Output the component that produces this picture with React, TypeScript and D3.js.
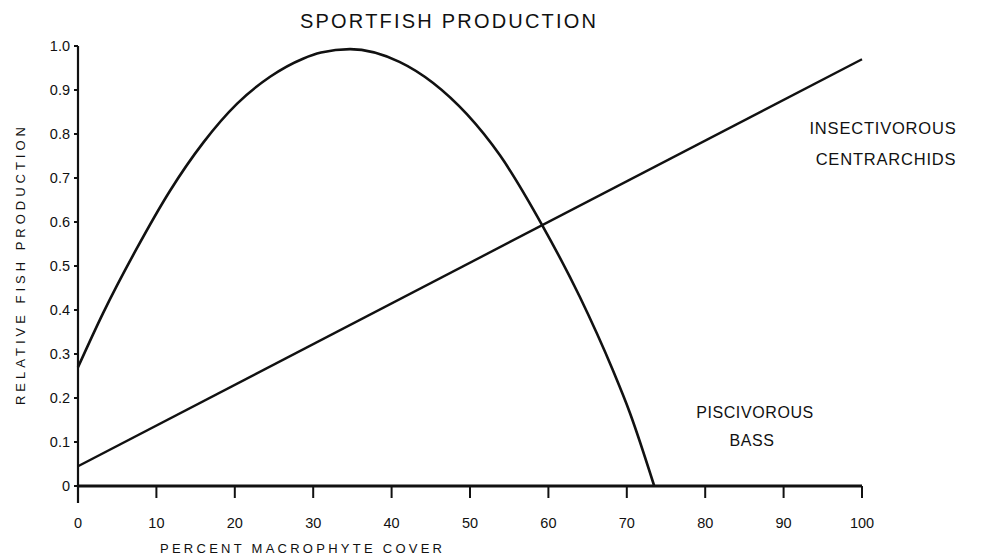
import React from "react";
import * as d3 from "d3";

const xTicks = [0, 10, 20, 30, 40, 50, 60, 70, 80, 90, 100];
const yTicks = [0, 0.1, 0.2, 0.3, 0.4, 0.5, 0.6, 0.7, 0.8, 0.9, 1.0];
const yTickLabels = ["0", "0.1", "0.2", "0.3", "0.4", "0.5", "0.6", "0.7", "0.8", "0.9", "1.0"];

const bassX = [0, 3.2, 7.5, 11.7, 16, 20.3, 24.5, 28.7, 31, 34.7, 41, 45.3, 49.6, 53.8, 59.2, 64, 68.2, 70.4, 73.5];
const bassY = [0.27, 0.393, 0.54, 0.67, 0.781, 0.869, 0.93, 0.971, 0.985, 0.993, 0.964, 0.916, 0.845, 0.752, 0.593, 0.43, 0.264, 0.166, 0];

const insectX = [0, 100];
const insectY = [0.045, 0.97];

const W = 987;
const H = 559;

export default function App() {
  const x = d3.scaleLinear().domain([0, 100]).range([78, 862]);
  const y = d3.scaleLinear().domain([0, 1]).range([486, 46]);

  const bass = bassX.map((v, i) => [v, bassY[i]] as [number, number]);
  const insect = insectX.map((v, i) => [v, insectY[i]] as [number, number]);

  const line = d3
    .line<[number, number]>()
    .x((d) => x(d[0]))
    .y((d) => y(d[1]))
    .curve(d3.curveMonotoneX);

  const font = "'Liberation Sans', Arial, Helvetica, sans-serif";

  return (
    <svg
      width={W}
      height={H}
      style={{ position: "absolute", left: 0, top: 0, background: "#fff" }}
      fontFamily={font}
    >
      <rect x={0} y={0} width={W} height={H} fill="#fff" />
      {/* title */}
      <text x={300} y={28} fontSize={20} textLength={296} lengthAdjust="spacing" fill="#111">
        SPORTFISH PRODUCTION
      </text>

      {/* y axis */}
      <line x1={x(0)} x2={x(0)} y1={y(1)} y2={503} stroke="#111" strokeWidth={2.2} />
      {yTicks.map((t, i) => (
        <g key={"yt" + i}>
          <line x1={x(0) - 4} x2={x(0)} y1={y(t)} y2={y(t)} stroke="#111" strokeWidth={2} />
          <text x={x(0) - 8} y={y(t) + 5} fontSize={14.5} textAnchor="end" fill="#111">
            {yTickLabels[i]}
          </text>
        </g>
      ))}

      {/* x axis */}
      <line x1={x(0)} x2={x(100)} y1={y(0)} y2={y(0)} stroke="#111" strokeWidth={3} />
      {xTicks.map((t, i) => (
        <g key={"xt" + i}>
          <line x1={x(t)} x2={x(t)} y1={y(0)} y2={y(0) + (t === 0 ? 17 : 12)} stroke="#111" strokeWidth={2} />
          <text x={x(t)} y={y(0) + 42} fontSize={14.5} textAnchor="middle" fill="#111">
            {t}
          </text>
        </g>
      ))}

      {/* axis titles */}
      <text x={160} y={553} fontSize={13} textLength={282} lengthAdjust="spacing" fill="#111">
        PERCENT MACROPHYTE COVER
      </text>
      <text
        transform={`translate(25, 405) rotate(-90)`}
        fontSize={13}
        textLength={278}
        lengthAdjust="spacing"
        fill="#111"
      >
        RELATIVE FISH PRODUCTION
      </text>

      {/* curves */}
      <path d={line(bass) || ""} fill="none" stroke="#111" strokeWidth={2.6} />
      <path d={line(insect) || ""} fill="none" stroke="#111" strokeWidth={2.4} />

      {/* labels */}
      <text x={883} y={134} fontSize={16.5} textAnchor="middle" fill="#111" letterSpacing={0.8}>
        INSECTIVOROUS
      </text>
      <text x={886} y={165} fontSize={16.5} textAnchor="middle" fill="#111" letterSpacing={0.8}>
        CENTRARCHIDS
      </text>
      <text x={755} y={418} fontSize={16} textAnchor="middle" fill="#111" letterSpacing={0.6}>
        PISCIVOROUS
      </text>
      <text x={752} y={446} fontSize={16} textAnchor="middle" fill="#111" letterSpacing={0.6}>
        BASS
      </text>
    </svg>
  );
}
